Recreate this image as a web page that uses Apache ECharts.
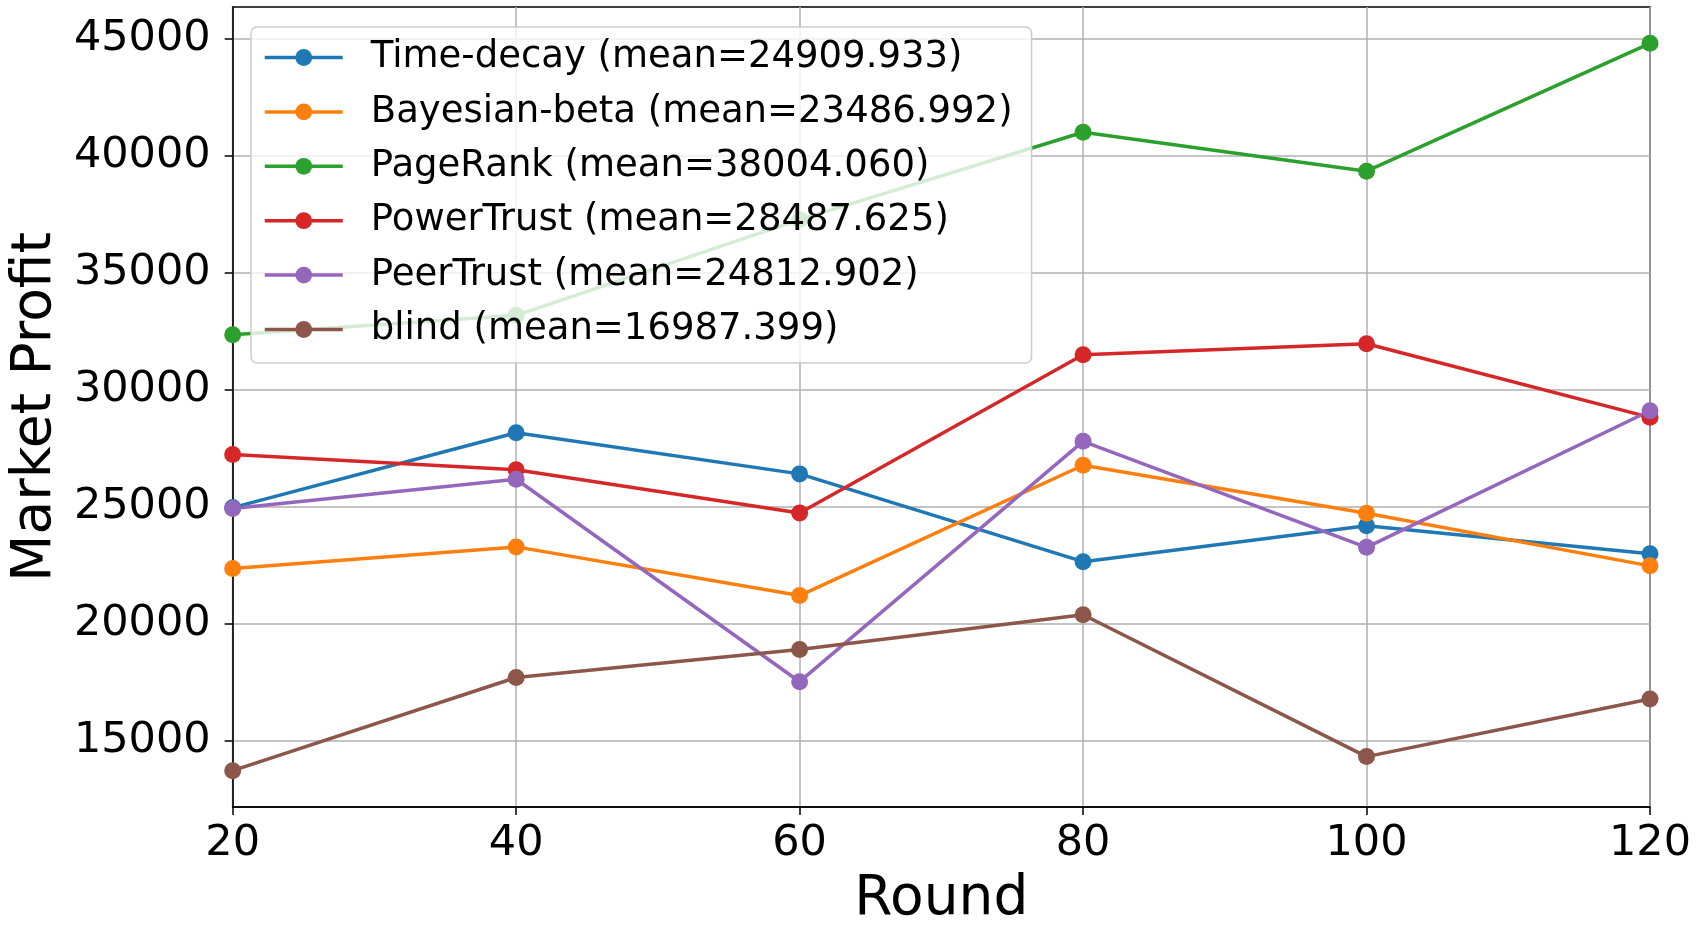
<!DOCTYPE html>
<html>
<head>
<meta charset="utf-8">
<script src="https://cdn.jsdelivr.net/npm/echarts@6/dist/echarts.min.js"></script>
<style>html,body{margin:0;padding:0;background:#fff}#c{width:1700px;height:932px}</style>
</head>
<body>
<div id="c"></div>
<script>
const rounds = [20, 40, 60, 80, 100, 120];
const timeDecay = [24980, 28180, 26420, 22670, 24200, 23010];
const bayesianBeta = [22380, 23300, 21220, 26790, 24740, 22490];
const pageRank = [32361, 33194, 37283, 41019, 39352, 44815];
const powerTrust = [27250, 26600, 24750, 31510, 31980, 28836];
const peerTrust = [24940, 26190, 17540, 27810, 23280, 29117];
const blind = [13740, 17720, 18920, 20400, 14340, 16804];
const seriesNames = [
  'Time-decay (mean=24909.933)',
  'Bayesian-beta (mean=23486.992)',
  'PageRank (mean=38004.060)',
  'PowerTrust (mean=28487.625)',
  'PeerTrust (mean=24812.902)',
  'blind (mean=16987.399)'
];
const yTicks = [15000, 20000, 25000, 30000, 35000, 40000, 45000];
const xTicks = [20, 40, 60, 80, 100, 120];
const colors = ['#1f77b4', '#ff7f0e', '#2ca02c', '#d62728', '#9467bd', '#8c564b'];

const allSeries = [timeDecay, bayesianBeta, pageRank, powerTrust, peerTrust, blind];
const flat = allSeries.flat();
const dMin = Math.min(...flat), dMax = Math.max(...flat);
const pad = (dMax - dMin) * 0.05;

const font = 'DejaVu Sans';
const chart = echarts.init(document.getElementById('c'));
chart.setOption({
  animation: false,
  backgroundColor: '#fff',
  color: colors,
  textStyle: { fontFamily: font, color: '#000' },
  grid: { left: 229, right: 50, top: 7, bottom: 119, show: true, borderColor: '#000', borderWidth: 1.5, backgroundColor: 'transparent' },
  legend: {
    orient: 'vertical',
    left: 251, top: 27,
    itemWidth: 78, itemHeight: 21, itemGap: 13.4,
    padding: [10, 19, 13, 12],
    backgroundColor: 'rgba(255,255,255,0.8)',
    borderColor: '#cccccc', borderWidth: 1.5, borderRadius: 6,
    lineStyle: { width: 3.5 },
    textStyle: { fontFamily: font, fontSize: 37, color: '#000', lineHeight: 41, padding: [0, 0, 0, 23] },
    data: seriesNames
  },
  xAxis: {
    type: 'value', min: 20, max: 120, interval: 20,
    name: 'Round', nameLocation: 'middle', nameGap: 65,
    nameTextStyle: { fontFamily: font, fontSize: 55, color: '#000' },
    axisLine: { show: true, lineStyle: { color: '#000', width: 1.5 } },
    axisTick: { show: true, length: 8, lineStyle: { color: '#000', width: 1.5 } },
    axisLabel: { fontFamily: font, fontSize: 43, color: '#000', margin: 15,
      formatter: v => xTicks.includes(v) ? String(v) : '' },
    splitLine: { show: true, lineStyle: { color: '#b0b0b0', width: 1.5 } }
  },
  yAxis: {
    type: 'value', min: dMin - pad, max: dMax + pad,
    name: 'Market Profit', nameLocation: 'middle', nameGap: 168,
    nameTextStyle: { fontFamily: font, fontSize: 55, color: '#000' },
    axisLine: { show: true, lineStyle: { color: '#000', width: 1.5 } },
    axisTick: { show: true, length: 8, customValues: yTicks, lineStyle: { color: '#000', width: 1.5 } },
    axisLabel: { fontFamily: font, fontSize: 43, color: '#000', margin: 22, customValues: yTicks,
      formatter: v => String(v) },
    splitLine: { show: true, lineStyle: { color: '#b0b0b0', width: 1.5 } }
  },
  series: allSeries.map((arr, i) => ({
    name: seriesNames[i],
    type: 'line',
    data: rounds.map((r, j) => [r, arr[j]]),
    symbol: 'circle', symbolSize: 17,
    lineStyle: { width: 3.5, color: colors[i] },
    itemStyle: { color: colors[i] },
    clip: true,
    z: 2
  }))
});
</script>
</body>
</html>
